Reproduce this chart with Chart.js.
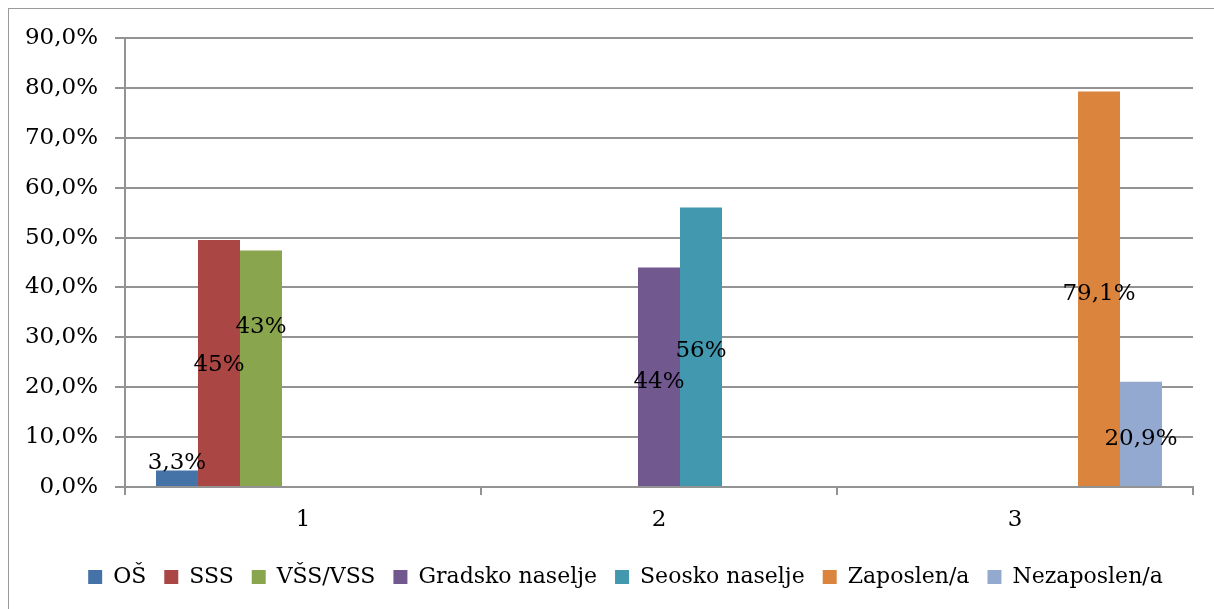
<!DOCTYPE html>
<html>
<head>
<meta charset="utf-8">
<script src="https://cdn.jsdelivr.net/npm/chart.js@4.4.1/dist/chart.umd.min.js"></script>
<style>
  html, body { margin: 0; padding: 0; background: #fff; }
  #wrap { position: absolute; left: 0; top: 0; width: 1214px; height: 609px; }
</style>
</head>
<body>
<div id="wrap"><canvas id="chart"></canvas></div>
<script>
// podaci
const categories = ['1', '2', '3'];
const seriesNames = ['OŠ', 'SSS', 'VŠS/VSS', 'Gradsko naselje', 'Seosko naselje', 'Zaposlen/a', 'Nezaposlen/a'];
const osValues = [3.3, null, null];
const sssValues = [49.5, null, null];
const vssValues = [47.4, null, null];
const gradskoValues = [null, 44.0, null];
const seoskoValues = [null, 56.0, null];
const zaposlenValues = [null, null, 79.3];
const nezaposlenValues = [null, null, 21.1];
const dataLabels = ['3,3%', '45%', '43%', '44%', '56%', '79,1%', '20,9%'];
const yTicks = [0, 10, 20, 30, 40, 50, 60, 70, 80, 90];

const colors = ['#4572A7', '#AA4643', '#89A54E', '#71588F', '#4198AF', '#DB843D', '#93A9CF'];
const FONT = '"DejaVu Serif", serif';
const FSIZE = 23;
const GRID = '#939393';

const allValues = [osValues, sssValues, vssValues, gradskoValues, seoskoValues, zaposlenValues, nezaposlenValues];

// pomak natpisa u pikselima (kao u Excelu, rucno pomaknuti)
const labelNudge = [-15, 2, -41, 5, 4, 5, 5];

const frame = {
    id: 'frame',
    beforeDraw(chart) {
        const ctx = chart.ctx;
        ctx.save();
        ctx.fillStyle = '#fff';
        ctx.fillRect(0, 0, chart.width, chart.height);
        ctx.strokeStyle = '#9a9a9a';
        ctx.lineWidth = 1;
        ctx.strokeRect(8.5, 8.5, chart.width + 20, chart.height + 20);
        ctx.restore();
    }
};

// legenda u Excelu nije centrirana na cijelu sirinu
const legendShift = {
    id: 'legendShift',
    afterLayout(chart) {
        if (chart.legend) chart.legend.left += 58;
    }
};

const barLabels = {
    id: 'barLabels',
    afterDatasetsDraw(chart) {
        const ctx = chart.ctx;
        ctx.save();
        ctx.font = FSIZE + 'px ' + FONT;
        ctx.fillStyle = '#000';
        ctx.textAlign = 'center';
        ctx.textBaseline = 'middle';
        chart.data.datasets.forEach((ds, i) => {
            const meta = chart.getDatasetMeta(i);
            ds.data.forEach((v, j) => {
                if (v === null) return;
                const bar = meta.data[j];
                const mid = (bar.y + bar.base) / 2;
                ctx.fillText(dataLabels[i], bar.x, mid + labelNudge[i]);
            });
        });
        ctx.restore();
    }
};

const ctx = document.getElementById('chart').getContext('2d');
new Chart(ctx, {
    type: 'bar',
    data: {
        labels: categories,
        datasets: seriesNames.map((name, i) => ({
            label: name,
            data: allValues[i],
            backgroundColor: colors[i],
            borderWidth: 0,
            categoryPercentage: 0.826,
            barPercentage: 1.0
        }))
    },
    options: {
        responsive: true,
        maintainAspectRatio: false,
        animation: false,
        layout: { padding: { top: 38, right: 21, bottom: 11, left: 0 } },
        plugins: {
            legend: {
                position: 'bottom',
                labels: {
                    font: { family: FONT, size: 22 },
                    color: '#000',
                    boxWidth: 14,
                    boxHeight: 14,
                    padding: 18
                }
            },
            tooltip: { enabled: false }
        },
        scales: {
            x: {
                grid: {
                    display: true,
                    drawOnChartArea: false,
                    drawTicks: true,
                    tickLength: 8,
                    lineWidth: 2,
                    color: GRID,
                    offset: true
                },
                border: { display: true, color: GRID, width: 2 },
                ticks: {
                    font: { family: FONT, size: FSIZE },
                    color: '#000',
                    padding: 11
                },
                afterFit(scale) { scale.height = 61; }
            },
            y: {
                min: 0,
                max: 90,
                afterBuildTicks(scale) { scale.ticks = yTicks.map(v => ({ value: v })); },
                grid: { color: GRID, lineWidth: 2, tickLength: 10, drawTicks: true },
                border: { display: true, color: GRID, width: 2 },
                ticks: {
                    font: { family: FONT, size: FSIZE },
                    color: '#000',
                    padding: 17,
                    callback: v => v.toFixed(1).replace('.', ',') + '%'
                },
                afterFit(scale) { scale.width = 125; }
            }
        }
    },
    plugins: [frame, legendShift, barLabels]
});
</script>
</body>
</html>
